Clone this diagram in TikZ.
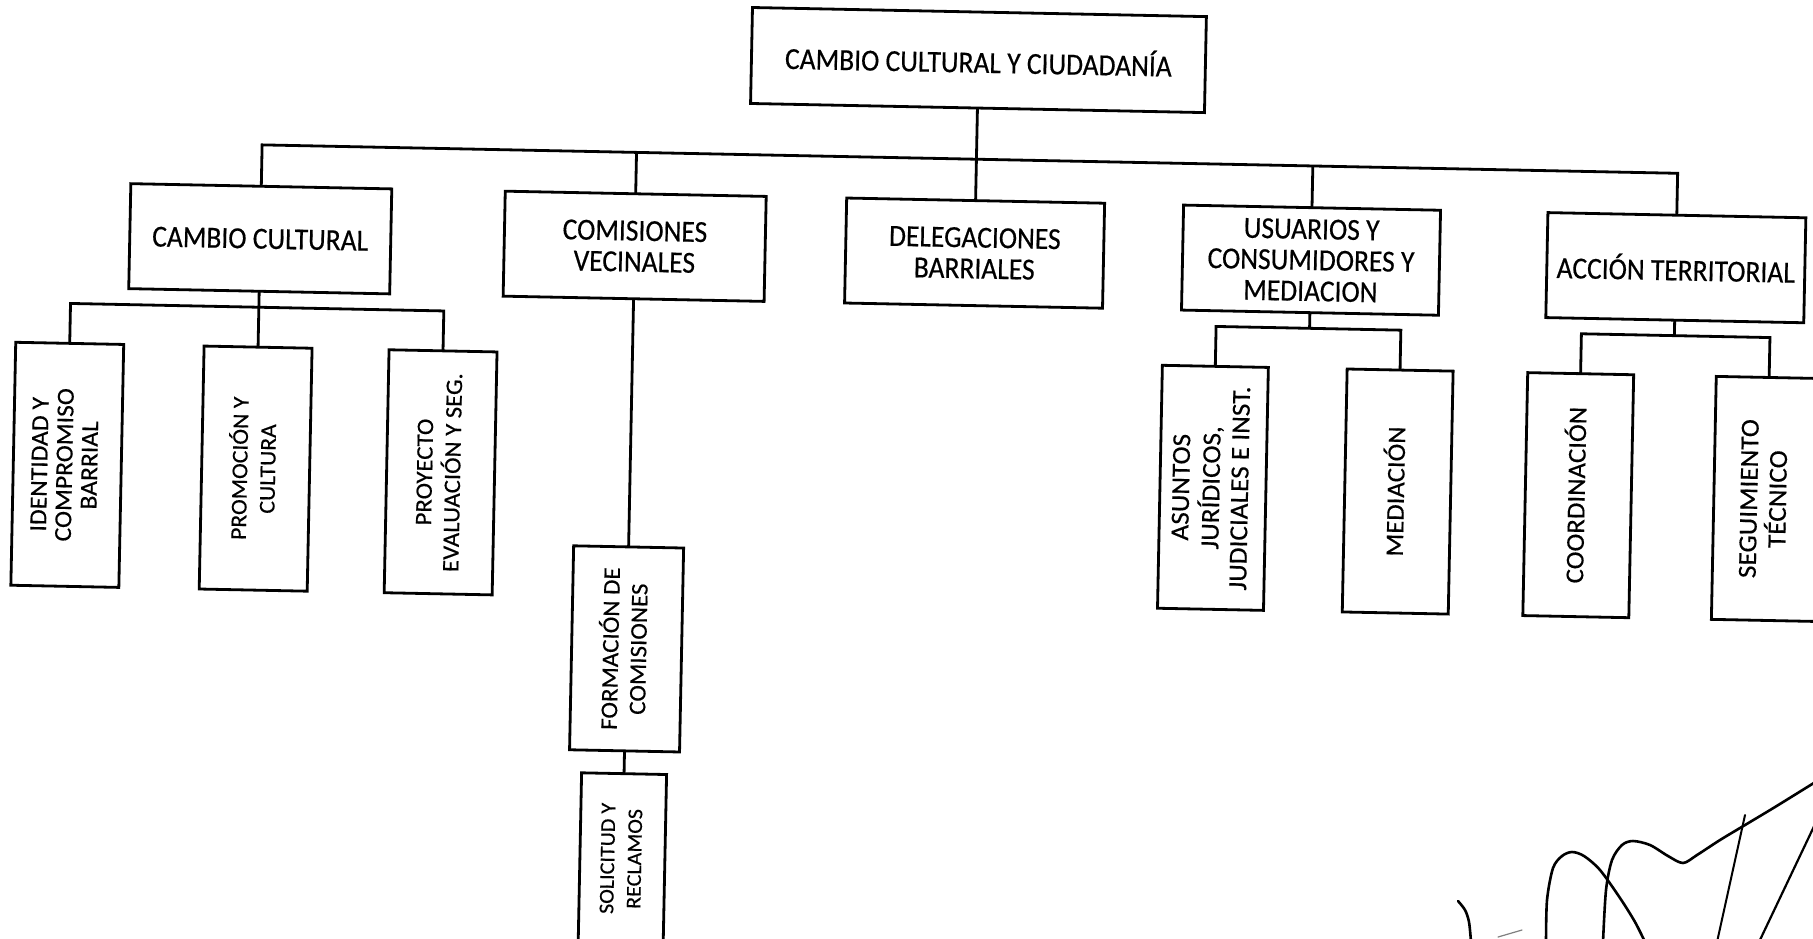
\documentclass[tikz,border=0pt]{standalone}
\usepackage{fontspec}
\usepackage{graphicx}
\setmainfont{Carlito}
\newfontfamily\hfont[FakeStretch=0.9,FakeBold=0.4]{Carlito}
\newfontfamily\vfont[FakeStretch=1.05,FakeBold=0.4]{Carlito}
\newcommand\vtxt[3]{\rotatebox{90}{\vfont\fontsize{#1}{#2}\selectfont\begin{tabular}{@{}c@{}}#3\end{tabular}}}
\tikzset{
  box/.style={draw=black, line width=1.4pt, inner sep=0pt, outer sep=0pt, align=center,
    font=\hfont\fontsize{15.3pt}{15.5pt}\selectfont},
  vbox/.style={draw=black, line width=1.4pt, inner sep=0pt, outer sep=0pt,
    minimum width=54pt, minimum height=121.5pt},
  link/.style={draw=black, line width=1.4pt},
  sig/.style={draw=black, line width=1.3pt, line cap=round, line join=round},
}
\begin{document}
\begin{tikzpicture}[x=0.5pt,y=-0.5pt]
\useasboundingbox (0,0) rectangle (1813,938);
\fill[white] (0,0) rectangle (1813,938);
\clip (0,0) rectangle (1813,938);
\begin{scope}[rotate=-1.15, transform shape]
% level 0
\node[box, minimum width=227pt, minimum height=48pt] (top) at (979.5,40.4) {CAMBIO CULTURAL Y CIUDADANÍA};
% level 1
\node[box, minimum width=130.5pt, minimum height=52.5pt] (cc) at (265,233.5) {CAMBIO CULTURAL};
\node[box, minimum width=130.5pt, minimum height=52.5pt] (cv) at (639.5,233.5) {COMISIONES\\VECINALES};
\node[box, minimum width=129pt, minimum height=52.5pt] (db) at (979.5,233.5) {DELEGACIONES\\BARRIALES};
\node[box, minimum width=128.5pt, minimum height=52.5pt] (uc) at (1316,233.8) {USUARIOS Y\\CONSUMIDORES Y\\MEDIACION};
\node[box, minimum width=129pt, minimum height=52.5pt] (at) at (1680.9,234) {ACCIÓN TERRITORIAL};
% level 2
\node[vbox] (cc1) at (76.6,463.4) {\vtxt{12.2pt}{12.5pt}{IDENTIDAD Y\\COMPROMISO\\BARRIAL}};
\node[vbox] (cc2) at (265,463.4) {\vtxt{11.3pt}{14pt}{PROMOCIÓN Y\\CULTURA}};
\node[vbox] (cc3) at (450,463.4) {\vtxt{11.8pt}{14pt}{PROYECTO\\EVALUACIÓN Y SEG.}};
\node[vbox, minimum width=55pt, minimum height=102pt] (fc) at (639.5,636.2) {\vtxt{11.9pt}{14pt}{FORMACIÓN DE\\COMISIONES}};
\node[vbox, minimum width=42.5pt, minimum height=85pt] (sr) at (639.5,846) {\vtxt{10.5pt}{13.5pt}{SOLICITUD Y\\RECLAMOS}};
\node[vbox, minimum width=53pt] (uc1) at (1222.5,463.4) {\vtxt{13pt}{14.3pt}{ASUNTOS\\JURÍDICOS,\\JUDICIALES E INST.}};
\node[vbox, minimum width=53pt] (uc2) at (1407.3,463.4) {\vtxt{12.7pt}{14pt}{MEDIACIÓN}};
\node[vbox, minimum width=53pt] (at1) at (1587.9,463.4) {\vtxt{12.8pt}{14pt}{COORDINACIÓN}};
\node[vbox, minimum width=53pt] (at2) at (1776.5,463.4) {\vtxt{13pt}{12pt}{SEGUIMIENTO\\TÉCNICO}};
% junctions
\coordinate (jcc) at (265,139.6);
\coordinate (jcv) at (639.5,139.6);
\coordinate (juc) at (1316,139.6);
\coordinate (jat) at (1680.9,139.6);
\coordinate (s1) at (76.6,302);
\coordinate (s3) at (450,302);
\coordinate (u0) at (1316,302);
\coordinate (u1) at (1222.5,302);
\coordinate (u2) at (1407.3,302);
\coordinate (a0) at (1680.9,302);
\coordinate (a1) at (1587.9,302);
\coordinate (a2) at (1776.5,302);
% connectors
\draw[link] (cc.north) -- (jcc) -- (jat) -- (at.north);
\draw[link] (top.south) -- (db.north);
\draw[link] (cv.north) -- (jcv);
\draw[link] (uc.north) -- (juc);
\draw[link] (cc1.north) -- (s1) -- (s3) -- (cc3.north);
\draw[link] (cc.south) -- (cc2.north);
\draw[link] (cv.south) -- (fc.north);
\draw[link] (fc.south) -- (sr.north);
\draw[link] (uc1.north) -- (u1) -- (u2) -- (uc2.north);
\draw[link] (uc.south) -- (u0);
\draw[link] (at1.north) -- (a1) -- (a2) -- (at2.north);
\draw[link] (at.south) -- (a0);
\end{scope}
% signature
\draw[sig] plot[smooth] coordinates {(1458,901) (1465,910) (1469,922) (1471,942)};
\draw[sig, line width=0.6pt, black!50] (1498,937) -- (1522,930);
\draw[sig] plot[smooth] coordinates {(1546,942) (1547,900) (1553,868) (1562,856) (1572,852) (1584,856) (1600,870) (1620,898) (1635,922) (1645,942)};
\draw[sig] plot[smooth] coordinates {(1603,942) (1606,890) (1612,860) (1622,845) (1633,841) (1650,845) (1668,856) (1683,863) (1697,855) (1720,840) (1745,825) (1775,807) (1817,781)};
\draw[sig, line width=1pt] (1745,815) -- (1717,942);
\draw[sig, line width=1.1pt] (1817,820) -- (1759,942);
\end{tikzpicture}
\end{document}
